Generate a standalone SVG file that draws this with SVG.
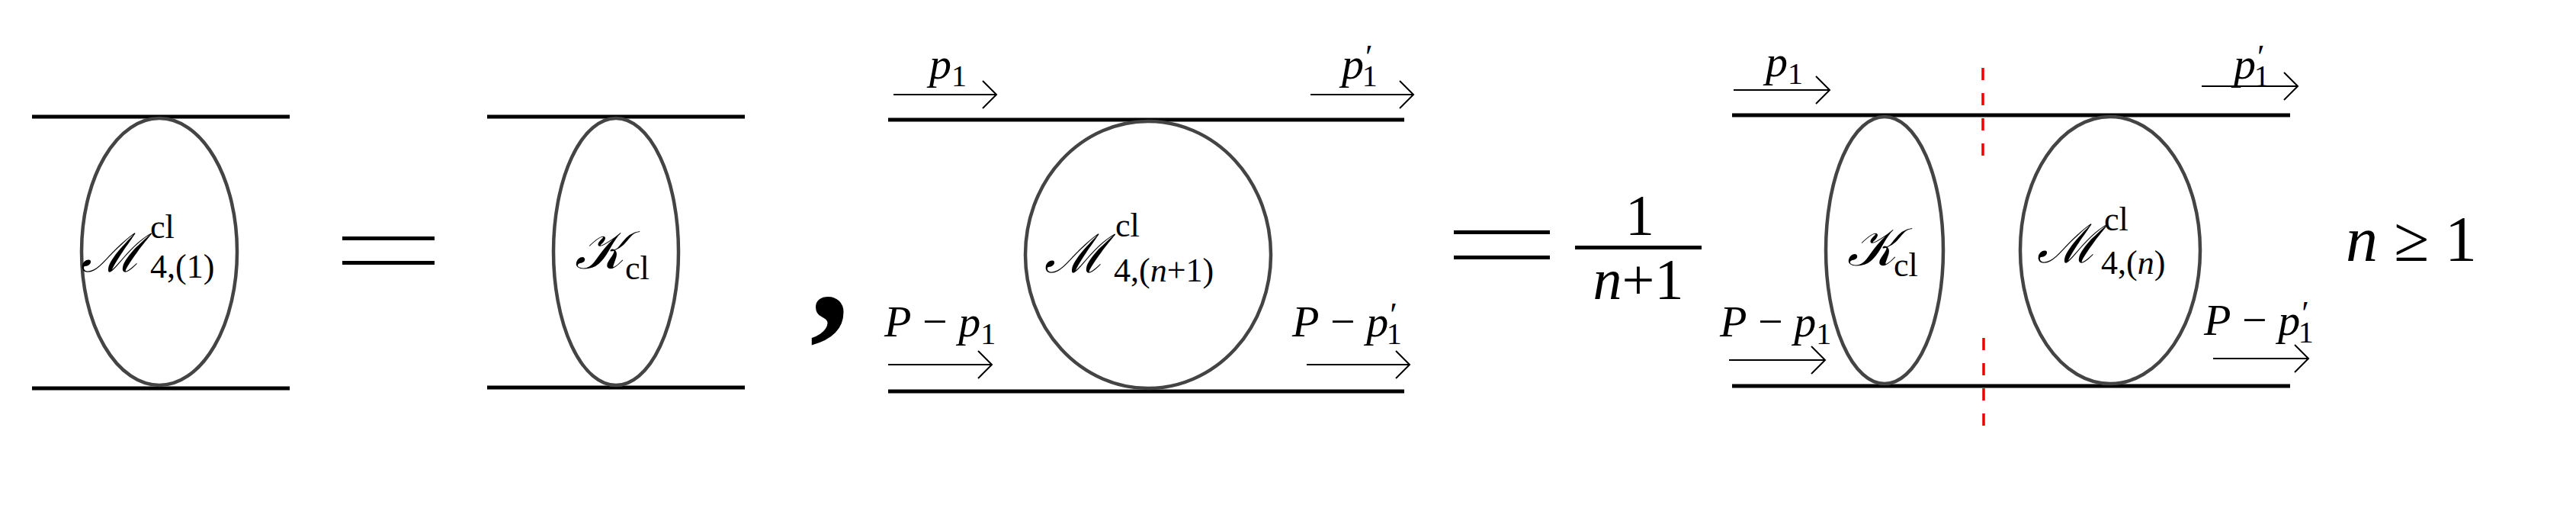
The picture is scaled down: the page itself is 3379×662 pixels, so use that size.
<svg xmlns="http://www.w3.org/2000/svg" width="3379" height="662" viewBox="0 0 3379 662">
<style>
.ln{stroke:#000;stroke-width:5;fill:none}
.el{stroke:#444;stroke-width:4.5;fill:none}
.ar{stroke:#000;stroke-width:2;fill:none}
.red{stroke:#e00;stroke-width:3.5;stroke-dasharray:16 17;fill:none}
text{font-family:"Liberation Serif","DejaVu Serif",serif;fill:#000}
.it{font-style:italic;font-family:"Liberation Serif","DejaVu Serif",serif}
.cal{font-family:"DejaVu Serif","Liberation Serif",serif;font-style:italic}
.big{font-size:70px}
.sc{font-size:44px;font-family:"Liberation Serif",serif}
.lab{font-size:58px;font-family:"Liberation Serif",serif}
.sub{font-size:40px}
.pr{font-size:44px}
.m{font-size:76px;font-family:"Liberation Serif",serif}
</style>
<defs>
<marker id="ah" markerUnits="userSpaceOnUse" markerWidth="30" markerHeight="40" refX="26" refY="20" orient="auto" viewBox="0 0 30 40">
<path d="M8 2 L26 20 L8 38" stroke="#000" stroke-width="2" fill="none"/>
</marker>
</defs>
<g id="connectors">
<line class="ln" x1="42" y1="153" x2="380" y2="153"/>
<line class="ln" x1="42" y1="509" x2="380" y2="509"/>
<line class="ln" x1="639" y1="153" x2="977" y2="153"/>
<line class="ln" x1="639" y1="508" x2="977" y2="508"/>
<line class="ln" x1="1165" y1="157" x2="1842" y2="157"/>
<line class="ln" x1="1165" y1="513" x2="1842" y2="513"/>
<line class="ln" x1="2272" y1="151" x2="3004" y2="151"/>
<line class="ln" x1="2272" y1="506" x2="3004" y2="506"/>
<line class="ar" x1="1172" y1="124" x2="1307" y2="124" marker-end="url(#ah)"/>
<line class="ar" x1="1719" y1="124" x2="1854" y2="124" marker-end="url(#ah)"/>
<line class="ar" x1="1165" y1="478" x2="1301" y2="478" marker-end="url(#ah)"/>
<line class="ar" x1="1714" y1="478" x2="1849" y2="478" marker-end="url(#ah)"/>
<line class="ar" x1="2274" y1="118" x2="2400" y2="118" marker-end="url(#ah)"/>
<line class="ar" x1="2888" y1="113" x2="3014" y2="113" marker-end="url(#ah)"/>
<line class="ar" x1="2268" y1="472" x2="2394" y2="472" marker-end="url(#ah)"/>
<line class="ar" x1="2903" y1="470" x2="3028" y2="470" marker-end="url(#ah)"/>
<line class="red" x1="2601" y1="89" x2="2601" y2="215"/>
<line class="red" x1="2602" y1="443" x2="2602" y2="570"/>
</g>
<g id="node-M1">
<ellipse class="el" cx="209" cy="330" rx="102" ry="175"/>
<text class="cal big" x="106" y="356">ℳ</text>
<text class="sc" x="197" y="312">cl</text>
<text class="sc" x="197" y="364">4,(1)</text>
</g>
<g id="eq1"><rect x="449" y="310" width="121" height="5"/><rect x="449" y="342" width="121" height="5"/></g>
<g id="node-K1">
<ellipse class="el" cx="808" cy="330" rx="82" ry="175"/>
<text class="cal big" x="754" y="352">𝒦</text>
<text class="sc" x="820" y="366">cl</text>
</g>
<text x="1062" y="420" style="font-size:210px;font-weight:bold">,</text>
<g id="node-M2">
<ellipse class="el" cx="1506" cy="334" rx="161" ry="175"/>
<text class="cal big" x="1370" y="357">ℳ</text>
<text class="sc" x="1463" y="310">cl</text>
<text class="sc" x="1461" y="369">4,(<tspan class="it">n</tspan>+1)</text>
</g>
<g id="labels-M2">
<text class="lab" x="1219" y="103"><tspan class="it">p</tspan><tspan class="sub" dy="10">1</tspan></text>
<text class="lab" x="1760" y="103"><tspan class="it">p</tspan><tspan class="pr" dx="2" dy="-14">′</tspan><tspan class="sub" dx="-14" dy="24">1</tspan></text>
<text class="lab" x="1160" y="441"><tspan class="it">P</tspan> − <tspan class="it">p</tspan><tspan class="sub" dy="10">1</tspan></text>
<text class="lab" x="1695" y="441"><tspan class="it">P</tspan> − <tspan class="it">p</tspan><tspan class="pr" dx="2" dy="-14">′</tspan><tspan class="sub" dx="-14" dy="24">1</tspan></text>
</g>
<g id="eq2"><rect x="1907" y="302" width="126" height="5"/><rect x="1907" y="335" width="126" height="5"/></g>
<g id="frac">
<text class="m" x="2151" y="308" text-anchor="middle">1</text>
<rect x="2066" y="322" width="166" height="5"/>
<text class="m" x="2149" y="392" text-anchor="middle"><tspan class="it">n</tspan>+1</text>
</g>
<g id="node-K2">
<ellipse class="el" cx="2472" cy="328" rx="77" ry="175"/>
<text class="cal big" x="2423" y="348">𝒦</text>
<text class="sc" x="2484" y="362">cl</text>
</g>
<g id="node-M3">
<ellipse class="el" cx="2768" cy="328" rx="118" ry="175"/>
<text class="cal big" x="2672" y="344">ℳ</text>
<text class="sc" x="2760" y="302">cl</text>
<text class="sc" x="2756" y="359">4,(<tspan class="it">n</tspan>)</text>
</g>
<g id="labels-M3">
<text class="lab" x="2316" y="100"><tspan class="it">p</tspan><tspan class="sub" dy="10">1</tspan></text>
<text class="lab" x="2930" y="103"><tspan class="it">p</tspan><tspan class="pr" dx="2" dy="-14">′</tspan><tspan class="sub" dx="-14" dy="24">1</tspan></text>
<text class="lab" x="2256" y="441"><tspan class="it">P</tspan> − <tspan class="it">p</tspan><tspan class="sub" dy="10">1</tspan></text>
<text class="lab" x="2891" y="439"><tspan class="it">P</tspan> − <tspan class="it">p</tspan><tspan class="pr" dx="2" dy="-14">′</tspan><tspan class="sub" dx="-14" dy="24">1</tspan></text>
</g>
<text x="3077" y="342" style="font-size:84px;font-family:'Liberation Serif',serif"><tspan class="it">n</tspan> ≥ 1</text>
</svg>
